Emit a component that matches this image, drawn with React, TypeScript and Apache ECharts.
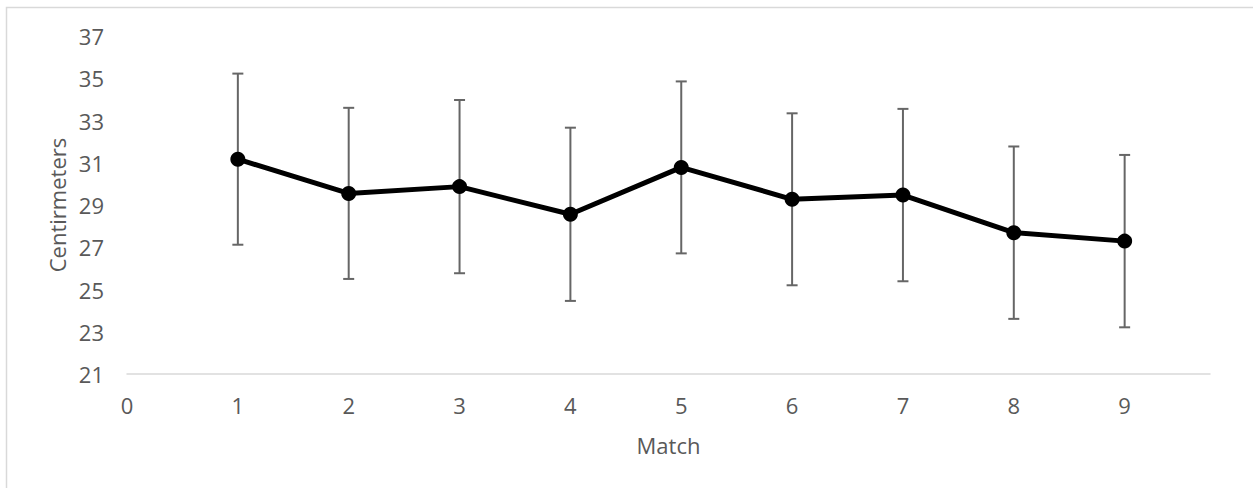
import React, { useEffect, useRef } from "react";
import * as echarts from "echarts";

const matches = [1, 2, 3, 4, 5, 6, 7, 8, 9];
const means = [31.17, 29.55, 29.87, 28.56, 30.78, 29.27, 29.47, 27.69, 27.29];
const errors = [4.05, 4.05, 4.1, 4.1, 4.07, 4.07, 4.08, 4.08, 4.08];

const TEXT = "#595959";
const FONT = "'Open Sans', sans-serif";

export default function App() {
  const ref = useRef<HTMLDivElement>(null);
  useEffect(() => {
    document.body.style.margin = "0";
    const chart = echarts.init(ref.current!, null, { renderer: "svg" });
    const lineData = matches.map((m, i) => [m, means[i]]);
    const errData = matches.map((m, i) => [m, means[i] - errors[i], means[i] + errors[i]]);
    chart.setOption({
      animation: false,
      backgroundColor: "#ffffff",
      textStyle: { fontFamily: FONT },
      graphic: [
        {
          type: "rect",
          shape: { x: 6.5, y: 7.5, width: 1260, height: 520 },
          style: { fill: "none", stroke: "#d9d9d9", lineWidth: 1.5 },
          silent: true,
        },
      ],
      grid: { left: 127, right: 43, top: 36, bottom: 114 },
      xAxis: {
        type: "value",
        min: 0,
        max: 9.77,
        interval: 1,
        name: "Match",
        nameLocation: "middle",
        nameGap: 60,
        nameTextStyle: { color: TEXT, fontSize: 22, fontFamily: FONT },
        axisLine: { show: true, lineStyle: { color: "#d9d9d9", width: 1.5 } },
        axisTick: { show: false },
        splitLine: { show: false },
        axisLabel: {
          color: TEXT,
          fontSize: 22,
          fontFamily: FONT,
          margin: 20,
          showMaxLabel: false,
          formatter: (v: number) => (Number.isInteger(v) ? String(v) : ""),
        },
      },
      yAxis: {
        type: "value",
        min: 21,
        max: 37,
        interval: 2,
        name: "Centirmeters",
        nameLocation: "middle",
        nameGap: 58,
        nameTextStyle: { color: TEXT, fontSize: 22, fontFamily: FONT },
        axisLine: { show: false },
        axisTick: { show: false },
        splitLine: { show: false },
        axisLabel: { color: TEXT, fontSize: 22, fontFamily: FONT, margin: 23 },
      },
      series: [
        {
          type: "custom",
          data: errData,
          z: 1,
          renderItem: (params: any, api: any) => {
            const x = api.value(0);
            const lo = api.coord([x, api.value(1)]);
            const hi = api.coord([x, api.value(2)]);
            const hw = 5.5;
            const style = { stroke: "#666666", lineWidth: 2, fill: "none" };
            return {
              type: "group",
              children: [
                { type: "line", shape: { x1: lo[0], y1: lo[1], x2: hi[0], y2: hi[1] }, style },
                { type: "line", shape: { x1: hi[0] - hw, y1: hi[1], x2: hi[0] + hw, y2: hi[1] }, style },
                { type: "line", shape: { x1: lo[0] - hw, y1: lo[1], x2: lo[0] + hw, y2: lo[1] }, style },
              ],
            };
          },
        },
        {
          type: "line",
          data: lineData,
          z: 3,
          symbol: "circle",
          symbolSize: 15,
          itemStyle: { color: "#000000" },
          lineStyle: { color: "#000000", width: 5 },
        },
      ],
    });
    return () => chart.dispose();
  }, []);
  return (
    <div
      ref={ref}
      style={{ position: "fixed", left: 0, top: 0, width: 1253, height: 488 }}
    />
  );
}
